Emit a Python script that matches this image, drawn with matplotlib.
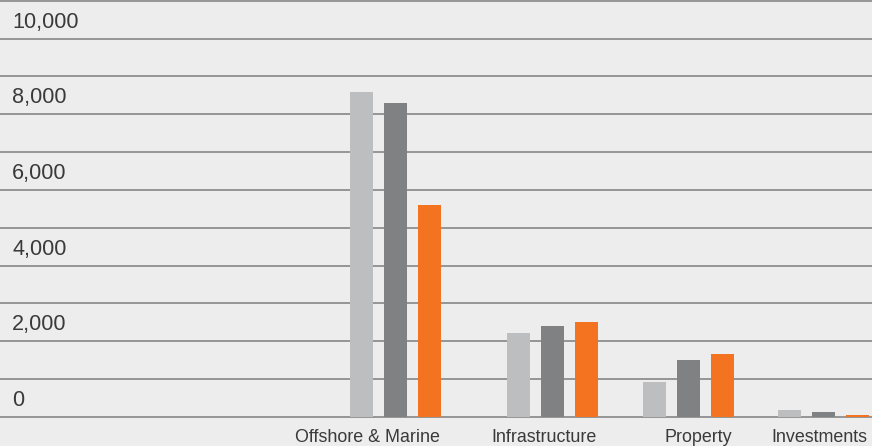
import matplotlib
matplotlib.use("Agg")
import matplotlib.pyplot as plt

# ---- data ----
categories = ["Offshore & Marine", "Infrastructure", "Property", "Investments"]
series_a = [8580, 2230, 930, 185]    # light grey
series_b = [8290, 2410, 1510, 130]   # dark grey
series_c = [5590, 2520, 1670, 45]    # orange
y_ticks = [0, 2000, 4000, 6000, 8000, 10000]
y_tick_labels = ["0", "2,000", "4,000", "6,000", "8,000", "10,000"]

# ---- layout / style ----
W, H = 872, 446
group_centers = [395.5, 552.5, 688.5, 823.5]   # horizontal layout of groups (x in px-like units)
bar_w = 23
bar_step = 34
colors = ["#BDBEC0", "#808183", "#F37321"]
bg = "#EDEDED"
txt = "#3A3A3A"
plt.rcParams["font.family"] = ["Liberation Sans", "DejaVu Sans"]

fig = plt.figure(figsize=(W / 100, H / 100), dpi=100, facecolor=bg)
bottom = (H - 417) / H
top = 1 - 0.7 / H
ax = fig.add_axes([0, bottom, 1, top - bottom], facecolor=bg)
ax.set_xlim(0, W)
ax.set_ylim(0, 11000)
for s in ax.spines.values():
    s.set_visible(False)
ax.set_xticks([])
ax.set_yticks([])

# gridlines every 1000
for v in range(0, 11001, 1000):
    ax.axhline(v, color="#959595", lw=1.4, zorder=1, clip_on=False)

# bars
for i, vals in enumerate([series_a, series_b, series_c]):
    xs = [c + (i - 1) * bar_step for c in group_centers]
    ax.bar(xs, vals, width=bar_w, color=colors[i], zorder=2, linewidth=0)

# y labels sitting in band above their gridline
for v, lab in zip(y_ticks, y_tick_labels):
    ax.text(12, v + 500, lab, ha="left", va="center_baseline", fontsize=15.6,
            color=txt, zorder=3)

# category labels, right aligned to group right edge
for c, lab in zip(group_centers, categories):
    xr = c + bar_step + bar_w / 2
    ax.annotate(lab, xy=(xr, 0), xycoords=("data", "axes fraction"),
                xytext=(-1, -18), textcoords="offset points",
                ha="right", va="baseline", fontsize=12.9, color=txt,
                annotation_clip=False)

fig.savefig("out.png", dpi=100, facecolor=bg)
